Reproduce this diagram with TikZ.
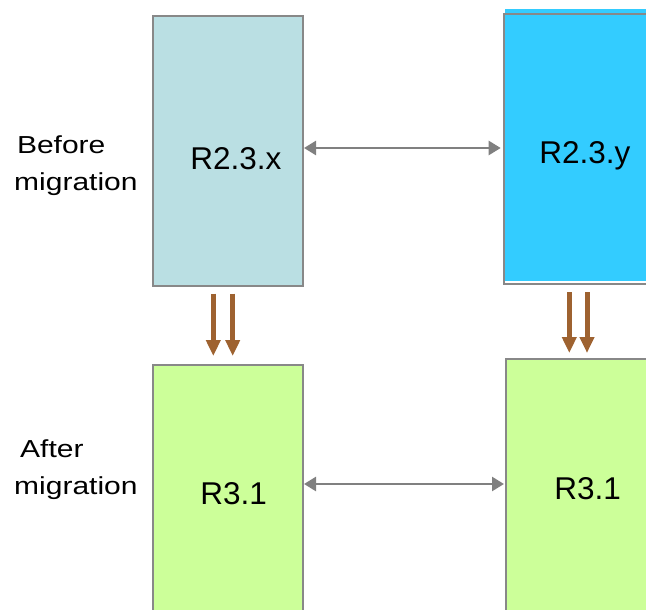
\documentclass[tikz,border=0pt]{standalone}
\usepackage{fontspec}
\setmainfont{Liberation Sans}
\usepackage{graphicx}
\usetikzlibrary{arrows.meta}

\definecolor{oldfill}{HTML}{BADFE3}
\definecolor{newfill}{HTML}{33CCFF}
\definecolor{relfill}{HTML}{CCFF99}
\definecolor{boxline}{HTML}{888888}
\definecolor{linkgrey}{HTML}{808080}
\definecolor{migbrown}{HTML}{9E6230}

\newcommand{\sidelabel}[3]{\scalebox{1}[0.82]{\begin{tabular}[t]{@{}l@{}}\hspace*{#1}#2\\#3\end{tabular}}}

\begin{document}
\begin{tikzpicture}[x=1pt,y=-1pt,
 every node/.style={inner sep=0pt,font=\fontsize{31.5}{36}\selectfont},
 relbox/.style={draw=boxline,line width=2pt,anchor=north west,minimum width=#1},
 sidetext/.style={anchor=base west,font=\fontsize{30}{45.6}\selectfont},
 relname/.style={anchor=base west},
 peer/.style={draw=linkgrey,line width=2.5pt,{Triangle[length=12pt,width=14pt]}-{Triangle[length=12pt,width=14pt]}},
 upgrade/.style={draw=migbrown,line width=5pt,-{Triangle[length=16pt,width=14pt]}}]
\useasboundingbox (0,0) rectangle (646,610);
% release boxes
\node[relbox=150pt,minimum height=270pt,fill=oldfill] (lx) at (152,15) {};
\fill[newfill] (505,9) rectangle (670,281);
\node[relbox=170pt,minimum height=270pt] (ry) at (502.7,13) {};
\node[relbox=150pt,minimum height=256pt,fill=relfill] (la) at (152,364) {};
\node[relbox=170pt,minimum height=262pt,fill=relfill] (ra) at (505,358) {};
% names
\node[relname] (lxname) at (190.2,169) {R2.3.x};
\node[relname] (ryname) at (539.2,163.3) {R2.3.y};
\node[relname] (laname) at (200.2,504) {R3.1};
\node[relname] (raname) at (554.2,499) {R3.1};
% side labels
\node[sidetext] (before) at (14,153.3) {\sidelabel{2.8pt}{Before}{migration}};
\node[sidetext] (after) at (14,457.3) {\sidelabel{6pt}{After}{migration}};
% links
\draw[peer,shorten >=2pt] ([yshift=3pt]lx.east) -- ([yshift=3pt]lx.east -| ry.west);
\draw[peer,shorten >=1pt] ([yshift=9pt]la.east) -- ([yshift=9pt]la.east -| ra.west);
% migration arrows
\foreach \dx in {-14.7,4.7}
 \draw[upgrade,shorten <=6.7pt,shorten >=8pt] ([xshift=\dx pt]lx.south) -- ([xshift=\dx pt]lx.south |- la.north);
\foreach \dx in {-19.4,-1.7}
 \draw[upgrade,shorten <=7pt,shorten >=5pt] ([xshift=\dx pt]ry.south) -- ([xshift=\dx pt]ry.south |- ra.north);
\end{tikzpicture}
\end{document}
